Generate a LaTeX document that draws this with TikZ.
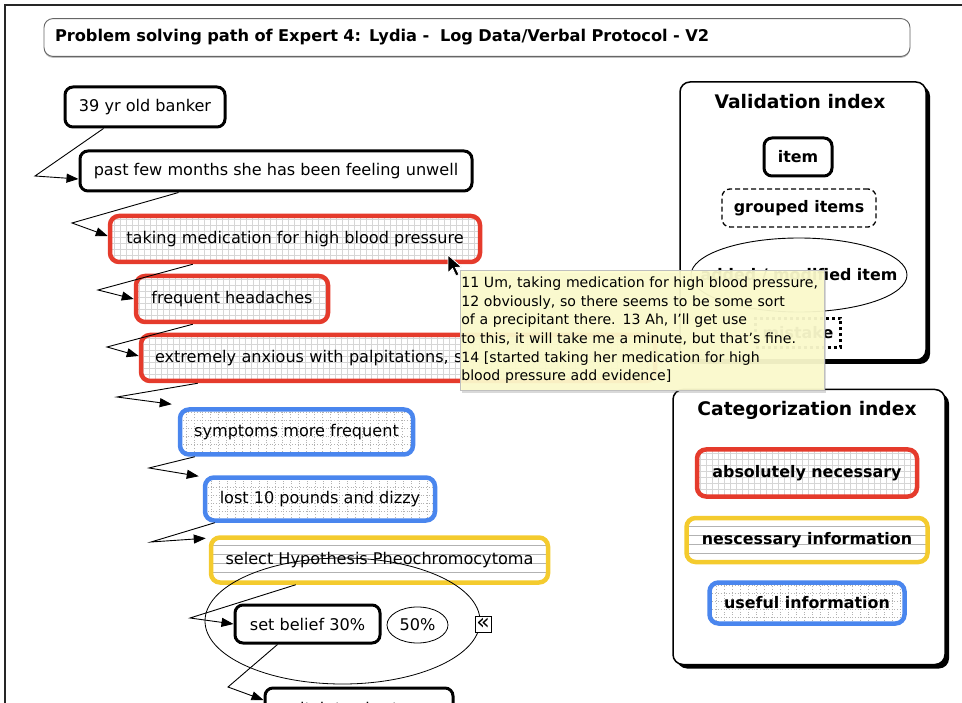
\documentclass[tikz,border=0pt]{standalone}
\usepackage{fontspec}
\setmainfont{DejaVu Sans}
\usetikzlibrary{arrows.meta,shapes.geometric,shadows}

\definecolor{nred}{HTML}{E53B2C}
\definecolor{nblue}{HTML}{4A86EE}
\definecolor{nyellow}{HTML}{F4CB2E}
\definecolor{tipyellow}{HTML}{FDFCCD}

\newcommand{\stepfont}{\fontsize{16.1}{18}\selectfont}
\newcommand{\keyfont}{\fontsize{15.9}{18}\selectfont\bfseries}
\newcommand{\headfont}{\fontsize{18.7}{21}\selectfont\bfseries}
\newcommand{\tipfont}{\fontsize{14.1}{18.6}\selectfont}

\tikzset{
	plainitem/.style={draw=black, line width=3, rounded corners=8, fill=white, inner sep=0},
	gridfill/.style={path picture={\draw[black!16, line width=0.6, step=6] (path picture bounding box.south west) grid (path picture bounding box.north east);}},
	dotfill/.style={path picture={\draw[black!30, line width=0.8, dotted, step=8] (path picture bounding box.south west) grid (path picture bounding box.north east);}},
	linefill/.style={path picture={\foreach \k in {1,...,5} \draw[black!30, line width=0.7] ([yshift=-\k*9+1]path picture bounding box.north west) -- ([yshift=-\k*9+1]path picture bounding box.north east);}},
	rednode/.style={draw=nred, line width=4.5, rounded corners=9, fill=white, inner sep=0, gridfill},
	bluenode/.style={draw=nblue, line width=4.5, rounded corners=9, fill=white, inner sep=0, dotfill},
	yellownode/.style={draw=nyellow, line width=4.5, rounded corners=9, fill=white, inner sep=0, linefill},
	legendbox/.style={draw=black, line width=1.5, rounded corners=10, fill=white, general shadow={fill=black, shadow xshift=4pt, shadow yshift=-4pt}},
	link/.style={line width=0.9, -{Triangle[length=12pt, width=9pt]}},
}

\begin{document}
\begin{tikzpicture}[x=1pt, y=1pt]
	\useasboundingbox (0,0) rectangle (962,-703);
	% screen frame
	\draw[black!85, line width=2] (5,-703) -- (5,-5) -- (962,-5);

	% title
	\node[draw=black!60, line width=0.9, rounded corners=9, fill=white, general shadow={fill=black!25, shadow xshift=0pt, shadow yshift=-1.5pt}, text width=844, inner sep=11, minimum height=35, align=left, font=\fontsize{16.2}{18}\selectfont\bfseries] (title) at (477,-37.5) {Problem solving path of Expert 4: Lydia -\ \ Log Data/Verbal Protocol - V2};

	% problem solving path
	\node[plainitem, minimum width=160, minimum height=40, font=\stepfont] (banker) at (145,-107) {39 yr old banker};
	\node[plainitem, minimum width=392, minimum height=40, font=\stepfont] (unwell) at (276,-171) {past few months she has been feeling unwell};
	\node[rednode, minimum width=370, minimum height=46, font=\stepfont] (medication) at (295,-239) {taking medication for high blood pressure};
	\node[rednode, minimum width=192, minimum height=46, font=\stepfont] (headaches) at (232,-299) {frequent headaches};
	\node[rednode, minimum width=514, minimum height=46, text width=486, align=left, font=\stepfont] (anxious) at (398,-358) {extremely anxious with palpitations, s};
	\node[bluenode, minimum width=233, minimum height=45, font=\stepfont] (symptoms) at (296.5,-432) {symptoms more frequent};
	\node[bluenode, minimum width=230, minimum height=43, font=\stepfont] (pounds) at (320,-499) {lost 10 pounds and dizzy};
	\node[yellownode, minimum width=337, minimum height=45, font=\stepfont] (hypothesis) at (379.5,-560) {select Hypothesis Pheochromocytoma};
	\node[ellipse, draw, line width=0.8, minimum width=275, minimum height=126] (beliefring) at (342.5,-621) {};
	\node[plainitem, minimum width=145, minimum height=38, font=\stepfont] (belief) at (307.5,-624) {set belief 30\%};
	\node[ellipse, draw, line width=0.8, fill=white, minimum width=61, minimum height=36, inner sep=0, font=\stepfont] (fifty) at (417.5,-625) {50\%};
	\node[draw, line width=0.9, fill=white, minimum size=16, inner sep=0, font=\fontsize{22}{22}\selectfont] (collapse) at (483,-624) {\raisebox{1pt}{«}};
	\node[plainitem, minimum width=188, minimum height=40, font=\stepfont] (chart) at (359,-708) {switch to chart area};

	\draw[link] ([xshift=40]banker.south west) -- (35,-176) -- ([yshift=-8]unwell.west);
	\draw[link] ([xshift=100]unwell.south west) -- (72,-223) -- ([yshift=3]medication.west);
	\draw[link] ([xshift=85]medication.south west) -- (98,-290) -- (headaches.west);
	\draw[link] ([xshift=59]headaches.south west) -- (107,-347) -- ([yshift=2]anxious.west);
	\draw[link] ([xshift=59]anxious.south west) -- (117,-397) -- ([shift={(-6,3)}]symptoms.north west);
	\draw[link] ([xshift=17]symptoms.south west) -- (149,-468) -- ([shift={(-4,-1)}]pounds.north west);
	\draw[link] ([xshift=12]pounds.south west) -- (151,-542) -- ([shift={(-3,-3)}]hypothesis.north west);
	\draw[link] ([xshift=87]hypothesis.south west) -- (190,-618) -- (belief.west);
	\draw[link] ([xshift=44]belief.south west) -- (228,-687) -- ([yshift=8]chart.west);

	% validation index
	\node[legendbox, minimum width=246, minimum height=278] (validation) at (803,-221) {};
	\node[font=\headfont] (valtitle) at (800,-102) {Validation index};
	\node[plainitem, minimum width=68, minimum height=38, font=\keyfont] (item) at (798,-157) {item};
	\node[draw, dash pattern=on 5pt off 3pt, line width=1.3, rounded corners=8, minimum width=154, minimum height=38, font=\keyfont] (grouped) at (799,-208) {grouped items};
	\node[ellipse, draw, line width=0.9, minimum width=216, minimum height=74] (added) at (799,-275) {};
	\node[font=\keyfont] (addedtext) at (added.center) {added / modified item};
	\node[draw, dashed, line width=2.5, minimum width=85, minimum height=29, inner sep=0, font=\keyfont] (mistake) at (798,-333) {mistake};

	% categorization index
	\node[legendbox, minimum width=272, minimum height=275] (categorization) at (809,-527) {};
	\node[font=\headfont] (cattitle) at (807,-410) {Categorization index};
	\node[rednode, minimum width=220, minimum height=47, font=\keyfont] (absolutely) at (807,-473) {absolutely necessary};
	\node[yellownode, minimum width=241, minimum height=44, font=\keyfont] (necessary) at (807,-540) {nescessary information};
	\node[bluenode, minimum width=195, minimum height=41, font=\keyfont] (useful) at (807,-603) {useful information};

	% tooltip over the path
	\node[draw=black!25, line width=0.6, fill=tipyellow, fill opacity=0.93, text opacity=1, drop shadow={shadow xshift=2pt, shadow yshift=-3pt, opacity=0.3}, anchor=north west, text width=362, inner sep=1, minimum height=120, align=left, font=\tipfont] (tooltip) at (460,-270) {11 Um, taking medication for high blood pressure,\\12 obviously, so there seems to be some sort\\of a precipitant there. 13 Ah, I'll get use\\to this, it will take me a minute, but that's fine.\\14 [started taking her medication for high\\blood pressure add evidence]};

	% mouse pointer
	\draw[white, line width=0.8, fill=black] (448,-255) -- (448,-273) -- (452.5,-268.5) -- (456,-276) -- (459,-274.5) -- (455.5,-267.5) -- (461.5,-267) -- cycle;
\end{tikzpicture}
\end{document}
